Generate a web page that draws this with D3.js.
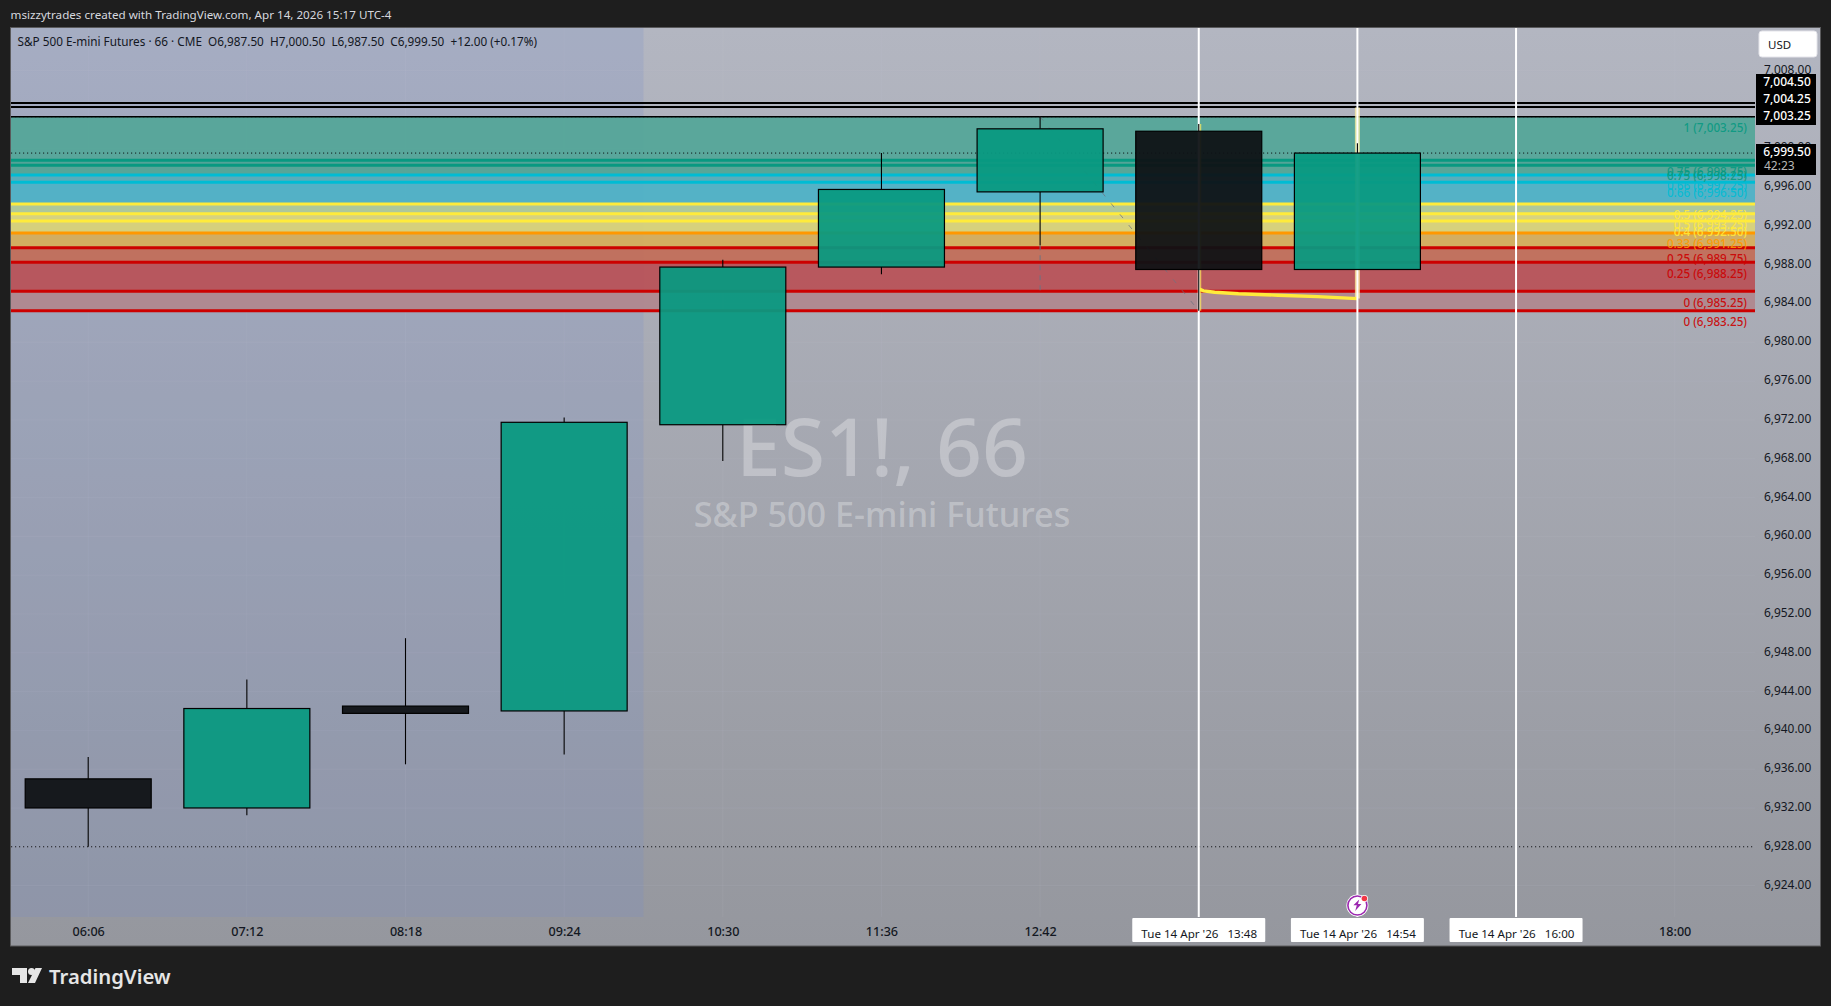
<!DOCTYPE html>
<html><head><meta charset="utf-8">
<script src="https://cdn.jsdelivr.net/npm/d3@7"></script>
<style>
html,body{margin:0;padding:0;background:#1e1e1e;overflow:hidden}
svg{display:block}
text{font-family:"Noto Sans",sans-serif;white-space:pre}
</style></head><body><svg id="c" width="1831" height="1006"></svg>
<script>
const barTimes=["06:06","07:12","08:18","09:24","10:30","11:36","12:42","13:48","14:54","16:00","18:00"];
const axisTimes=["06:06","07:12","08:18","09:24","10:30","11:36","12:42","18:00"];
const opens =[6935,6932,6942.5,6942,6971.5,6987.75,6995.5,7001.75,6987.5];
const highs =[6937.25,6945.25,6949.5,6972.25,6988.5,6999.5,7003.25,7002.5,7000.5];
const lows  =[6928,6931.25,6936.5,6937.5,6967.75,6987,6990,6983.25,6987.5];
const closes=[6932,6942.25,6941.75,6971.75,6987.75,6995.75,7002,6987.5,6999.5];
const priceTicks=[7008,7004,7000,6996,6992,6988,6984,6980,6976,6972,6968,6964,6960,6956,6952,6948,6944,6940,6936,6932,6928,6924];
const blackLevels=[7004.5,7004.25];
const dottedLevels=[7003.25,6999.5,6928];
const bandTops   =[7003.25,6998.75,6998.25,6997.25,6996.5,6994.25,6993.25,6992.5,6991.25,6989.75,6988.25,6985.25];
const bandBottoms=[6998.75,6998.25,6997.25,6996.5,6994.25,6993.25,6992.5,6991.25,6989.75,6988.25,6985.25,6983.25];
const bandColors=["#57a69a","#4fa396","#56a597","#58acba","#51b2c6","#aec89a","#d8d47e","#d8d27a","#d4ad5e","#c1705c","#b8555b","#b0888f"];
const levelPrices=[7003.25,6998.75,6998.25,6997.25,6996.5,6994.25,6993.25,6992.5,6991.25,6989.75,6988.25,6985.25,6983.25];
const levelTags=["1","0.75","0.75","0.66","0.66","0.5","0.5","0.4","0.33","0.25","0.25","0","0"];
const levelColors=["#089981","#089981","#089981","#00bcd4","#00bcd4","#ffeb3b","#ffeb3b","#ffeb3b","#ff9800","#cc0000","#cc0000","#cc0000","#cc0000"];
const curveIdx=[7,7.03,7.1,7.25,7.5,7.75,8];
const curvePrices=[6985.5,6985.3,6985.15,6985.0,6984.85,6984.7,6984.5];
const markerIdx=[7,8,9];
const markerLabels=["Tue 14 Apr '26   13:48","Tue 14 Apr '26   14:54","Tue 14 Apr '26   16:00"];
const boxPrices=["7,004.50","7,004.25","7,003.25"];

const svg=d3.select("#c");
const L=11,R=1755,T=28,B=917,RR=1820,BB=945.5;
const y=d3.scaleLinear().domain([6920.70,7012.35]).range([B+.6,T+.4]);
const xi=d3.scaleLinear().domain([0,10]).range([88.2,1674.7]);
const xt=d3.scalePoint().domain(barTimes).range([88.2,1674.7]);
const f2=d3.format(",.2f");

const defs=svg.append("defs");
const g=defs.append("linearGradient").attr("id","bg").attr("x1",0).attr("x2",0).attr("y1",0).attr("y2",1);
g.append("stop").attr("offset",0).attr("stop-color","#b3b6c1");
g.append("stop").attr("offset",1).attr("stop-color","#95979e");
const c=defs.append("clipPath").attr("id","plot");
c.append("rect").attr("x",L).attr("y",T).attr("width",R-L).attr("height",B-T);

svg.append("rect").attr("x",L-1).attr("y",27).attr("width",RR-L+2).attr("height",BB-27+1).attr("fill","#5a5a5c");
svg.append("rect").attr("x",L).attr("y",T).attr("width",RR-L).attr("height",BB-T).attr("fill","url(#bg)");
// session shading
svg.append("rect").attr("x",L).attr("y",T).attr("width",xi(3.5)-L).attr("height",B-T).attr("fill","rgb(118,140,200)").attr("opacity",.22);

const plot=svg.append("g").attr("clip-path","url(#plot)");
// grid
plot.selectAll(".gv").data(barTimes).join("line").attr("x1",d=>xt(d)).attr("x2",d=>xt(d)).attr("y1",T).attr("y2",B).attr("stroke","#c0c8d8").attr("stroke-opacity",.1);
plot.selectAll(".gh").data(priceTicks).join("line").attr("x1",L).attr("x2",R).attr("y1",d=>y(d)).attr("y2",d=>y(d)).attr("stroke","#c0c8d8").attr("stroke-opacity",.1);

// watermark
plot.append("text").attr("x",882).attr("y",476).attr("text-anchor","middle").attr("font-size",80.5).attr("font-weight",500).attr("fill","#fff").attr("fill-opacity",.3).text("ES1!, 66");
plot.append("text").attr("x",882).attr("y",527).attr("text-anchor","middle").attr("font-size",34.2).attr("font-weight",500).attr("fill","#fff").attr("fill-opacity",.3).text("S&P 500 E-mini Futures");

// bands
plot.selectAll(".band").data(bandTops).join("rect").attr("x",L).attr("width",R-L)
 .attr("y",d=>y(d)).attr("height",(d,i)=>y(bandBottoms[i])-y(d)).attr("fill",(d,i)=>bandColors[i]).attr("fill-opacity",.97);
// level lines
plot.selectAll(".lvl").data(levelPrices).join("line").attr("x1",L).attr("x2",R).attr("y1",d=>y(d)).attr("y2",d=>y(d))
 .attr("stroke",(d,i)=>i==0?"#000":levelColors[i]).attr("stroke-width",(d,i)=>i==0?1.5:3);
plot.selectAll(".blk").data(blackLevels).join("line").attr("x1",L).attr("x2",R).attr("y1",(d,i)=>y(d)-(i==0?1.5:0)).attr("y2",(d,i)=>y(d)-(i==0?1.5:0)).attr("stroke","#000").attr("stroke-width",1.9);
plot.selectAll(".dot").data(dottedLevels).join("line").attr("x1",L).attr("x2",R).attr("y1",d=>y(d)).attr("y2",d=>y(d)).attr("stroke","#000").attr("stroke-opacity",.85).attr("stroke-dasharray","1.2 2.8").attr("stroke-width",1);

// yellow anchored curve + stems
plot.append("line").attr("x1",xi(8)).attr("x2",xi(8)).attr("y1",y(7004.2)).attr("y2",y(6984.5)).attr("stroke","#fff0a0").attr("stroke-width",5).attr("stroke-opacity",.75);
plot.append("line").attr("x1",xi(7)+1).attr("x2",xi(7)+1).attr("y1",y(7002.5)).attr("y2",y(6983.25)).attr("stroke","#ffeb5b").attr("stroke-width",3).attr("stroke-opacity",.7);
plot.append("path").attr("d",d3.line().x((d,i)=>xi(curveIdx[i])).y(d=>y(d))(curvePrices)).attr("fill","none").attr("stroke","#ffeb3b").attr("stroke-width",3.4);

// white vertical markers
plot.selectAll(".vm").data(markerIdx).join("line").attr("x1",d=>xi(d)).attr("x2",d=>xi(d)).attr("y1",T).attr("y2",B).attr("stroke","#fff").attr("stroke-width",2);

// dashed trend
plot.append("line").attr("x1",xi(6)).attr("x2",xi(7)).attr("y1",y(7003.25)).attr("y2",y(6983.25)).attr("stroke","#6e7380").attr("stroke-opacity",.75).attr("stroke-dasharray","5 9");
plot.append("line").attr("x1",xi(6)).attr("x2",xi(6)).attr("y1",y(6990)).attr("y2",y(6985.25)).attr("stroke","#6e7380").attr("stroke-dasharray","5 5");

// candles: wicks stop at the body so they do not show through it
const cg=plot.selectAll(".cd").data(opens).join("g");
cg.append("line").attr("x1",(d,i)=>xi(i)).attr("x2",(d,i)=>xi(i)).attr("y1",(d,i)=>y(highs[i])).attr("y2",(d,i)=>y(Math.max(d,closes[i]))).attr("stroke","#000").attr("stroke-width",1.1);
cg.append("line").attr("x1",(d,i)=>xi(i)).attr("x2",(d,i)=>xi(i)).attr("y1",(d,i)=>y(Math.min(d,closes[i]))).attr("y2",(d,i)=>y(lows[i])).attr("stroke","#000").attr("stroke-width",1.1);
cg.append("rect").attr("x",(d,i)=>xi(i)-63).attr("width",126)
 .attr("y",(d,i)=>y(Math.max(d,closes[i]))).attr("height",(d,i)=>Math.abs(y(d)-y(closes[i])))
 .attr("fill",(d,i)=>closes[i]>=d?"#089981":"#0e1114").attr("fill-opacity",.94).attr("stroke","#000").attr("stroke-width",1.2);

// level labels
svg.append("g").selectAll("text").data(levelPrices).join("text").attr("x",1747).attr("y",d=>y(d)+11.2).attr("dy",".35em")
 .attr("text-anchor","end").attr("font-size",11.7).attr("font-weight",500).attr("fill",(d,i)=>levelColors[i]).attr("fill-opacity",.9)
 .text((d,i)=>`${levelTags[i]} (${f2(d)})`);

// axes
const ay=svg.append("g").attr("transform",`translate(${R},-1.3)`).call(d3.axisRight(y).tickValues(priceTicks).tickSize(0).tickPadding(9).tickFormat(f2));
ay.select(".domain").remove();
const ax=svg.append("g").attr("transform",`translate(0,${B+10})`).call(d3.axisBottom(xt).tickValues(axisTimes).tickSize(0).tickPadding(0));
ax.select(".domain").remove();
[ay,ax].forEach(a=>a.selectAll("text").attr("font-family",'"Noto Sans",sans-serif').attr("fill","#131722"));
ay.selectAll("text").attr("font-size",11.9);
ax.selectAll("text").attr("font-size",12.6).attr("font-weight",500);

// price boxes
svg.append("rect").attr("x",1756).attr("y",74).attr("width",60).attr("height",51).attr("fill","#000");
svg.selectAll(".pb").data(boxPrices).join("text").attr("x",1787).attr("y",(d,i)=>82+17*i).attr("dy",".35em").attr("text-anchor","middle").attr("font-size",12).attr("font-weight",500).attr("fill","#fff").text(d=>d);
svg.append("rect").attr("x",1756).attr("y",144).attr("width",60).attr("height",31).attr("fill","#000");
svg.append("text").attr("x",1787).attr("y",152).attr("dy",".35em").attr("text-anchor","middle").attr("font-size",12).attr("font-weight",500).attr("fill","#fff").text(f2(closes[8]));
svg.append("text").attr("x",1764).attr("y",166).attr("dy",".35em").attr("font-size",12).attr("fill","#b8b8b8").text("42:23");

// USD
svg.append("rect").attr("x",1759).attr("y",31).attr("width",58).attr("height",26).attr("rx",3).attr("fill","#fff").attr("stroke","#e4e4ea");
svg.append("text").attr("x",1768).attr("y",44.5).attr("dy",".35em").attr("font-size",11.5).attr("fill","#131722").text("USD");

// marker labels
const mg=svg.selectAll(".ml").data(markerIdx).join("g");
mg.append("rect").attr("x",d=>xi(d)-66.5).attr("y",918).attr("width",133).attr("height",24).attr("rx",1).attr("fill","#fff");
mg.append("text").attr("x",d=>xi(d)+.5).attr("y",934).attr("dy",".35em").attr("text-anchor","middle").attr("font-size",11.6).attr("fill","#131722").text((d,i)=>markerLabels[i]);

// event icon
const ic=svg.append("g").attr("transform",`translate(${xi(8)},905.5)`);
ic.append("circle").attr("r",11).attr("fill","#fff");
ic.append("circle").attr("r",9.5).attr("fill","#fff").attr("stroke","#9c27b0").attr("stroke-width",1.6);
ic.append("path").attr("d","M1.8-6 L-4-.2 L-.6-.2 L-2.2 5.6 L4-1.4 L.6-1.4 Z").attr("fill","#9c27b0");
ic.append("circle").attr("cx",7).attr("cy",-7).attr("r",3.6).attr("fill","#fff");
ic.append("circle").attr("cx",7).attr("cy",-7).attr("r",2.8).attr("fill","#f23645");

// headers
svg.append("text").attr("x",10.5).attr("y",14.5).attr("dy",".35em").attr("font-size",11.65).attr("fill","#d6d8de").text("msizzytrades created with TradingView.com, Apr 14, 2026 15:17 UTC-4");
svg.append("text").attr("x",17.5).attr("y",41.5).attr("dy",".35em").attr("font-size",11.75).attr("fill","#131722").text("S&P 500 E-mini Futures · 66 · CME  O6,987.50  H7,000.50  L6,987.50  C6,999.50  +12.00 (+0.17%)");

// logo
const lg=svg.append("g").attr("fill","#e6e6e6");
lg.append("path").attr("d","M12 968H27V983H20V975H12Z");
lg.append("circle").attr("cx",31.5).attr("cy",971.5).attr("r",3.5);
lg.append("path").attr("d","M35.5 968H42L35 983H28Z");
lg.append("text").attr("x",49).attr("y",976.5).attr("dy",".35em").attr("font-family","Inter").attr("font-size",20.3).attr("font-weight",600).text("TradingView");
</script></body></html>
